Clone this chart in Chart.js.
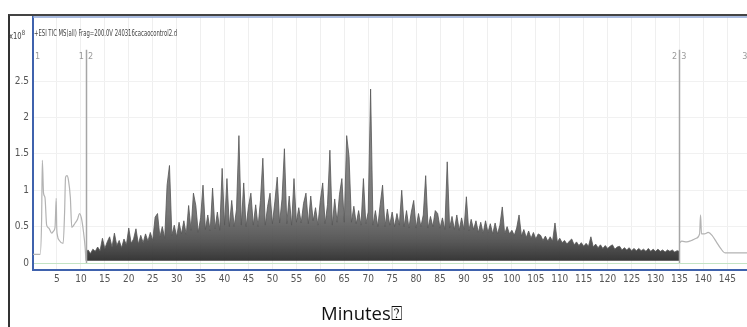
<!DOCTYPE html>
<html>
<head>
<meta charset="utf-8">
<script src="https://cdn.jsdelivr.net/npm/chart.js@4.4.1/dist/chart.umd.min.js"></script>
<style>
  body { margin: 0; background: #fff; }
  #wrap { position: relative; width: 747px; height: 327px; overflow: hidden; background: #fff; }
  #frame { position: absolute; left: 8px; top: 14px; width: 800px; height: 400px; border-left: 2px solid #333; border-top: 2px solid #444; }
  canvas { position: absolute; left: 0; top: 0; }
  .small { position: absolute; white-space: nowrap; transform-origin: 0 0; color: #444;
           font-family: "Liberation Sans Narrow", "DejaVu Sans Condensed", "Liberation Sans", sans-serif; }
  #expo { left: 9px; top: 29px; font-size: 9px; }
  #expo sup { font-size: 7px; vertical-align: 4px; }
  #title { left: 34px; top: 28px; font-size: 9px; }
  #xlabel { position: absolute; left: 321px; top: 300px; font: 18.5px "Open Sans", sans-serif; color: #111; white-space: nowrap; }
</style>
</head>
<body>
<div id="wrap">
  <div id="frame"></div>
  <canvas id="tic" width="747" height="327"></canvas>
  <div id="expo" class="small">x10<sup>8</sup></div>
  <div id="title" class="small">+ESI TIC MS(all) Frag=200.0V 240316cacaocontrol2.d</div>
  <div id="xlabel">Minutes⍰</div>
</div>
<script>
// ticks
const xTicks = [5, 10, 15, 20, 25, 30, 35, 40, 45, 50, 55, 60, 65, 70, 75, 80, 85, 90, 95, 100, 105, 110, 115, 120, 125, 130, 135, 140, 145];
const yTicks = [0, 0.5, 1, 1.5, 2, 2.5];

// segmentos (1 | 2 | 3)
const segmentNames = ["1", "2", "3"];
const segmentBounds = [0, 11.05, 134.95, 149.6];

// trecho 1 (antes do corte)
const preTimes  = [0, 1.5, 1.8, 1.95, 2.2, 2.5, 2.85, 3.3, 3.9, 4.3, 4.6, 4.85, 4.95, 5.1, 5.5, 6.3, 6.6, 6.8, 7.1, 7.4, 7.8, 8.1, 8.8, 9.3, 9.7, 10.1, 10.5, 10.9, 11.05];
const preValues = [0.12, 0.12, 0.6, 1.41, 0.96, 0.9, 0.52, 0.48, 0.41, 0.44, 0.49, 0.89, 0.5, 0.38, 0.31, 0.27, 0.7, 1.18, 1.2, 1.14, 0.9, 0.49, 0.55, 0.6, 0.68, 0.62, 0.45, 0.2, 0.03];

// trecho 2 (denso), a cada 0.5 min a partir de 11
const denseStart = 11;
const denseStep = 0.5;
const denseValues = [
  0.15, 0.18, 0.13, 0.19, 0.16, 0.22, 0.17, 0.34, 0.2, 0.29,
  0.36, 0.22, 0.41, 0.24, 0.31, 0.21, 0.33, 0.25, 0.48, 0.27,
  0.33, 0.47, 0.26, 0.38, 0.28, 0.4, 0.3, 0.42, 0.31, 0.63,
  0.68, 0.36, 0.5, 0.34, 1.07, 1.34, 0.38, 0.52, 0.36, 0.56,
  0.4, 0.58, 0.39, 0.79, 0.45, 0.96, 0.79, 0.42, 0.62, 1.07,
  0.46, 0.66, 0.44, 1.03, 0.47, 0.7, 0.45, 1.3, 0.52, 1.16,
  0.5, 0.86, 0.5, 0.74, 1.75, 0.52, 1.1, 0.5, 0.78, 0.96,
  0.52, 0.8, 0.5, 0.86, 1.44, 0.52, 0.78, 0.96, 0.54, 0.84,
  1.18, 0.55, 0.88, 1.57, 0.54, 0.92, 0.52, 1.16, 0.56, 0.76,
  0.55, 0.82, 0.96, 0.54, 0.92, 0.58, 0.76, 0.52, 0.86, 1.1,
  0.54, 0.8, 1.55, 0.52, 0.88, 0.56, 0.94, 1.16, 0.56, 1.75,
  1.46, 0.56, 0.78, 0.54, 0.72, 0.52, 1.16, 0.54, 0.7, 2.39,
  0.52, 0.72, 0.5, 0.8, 1.07, 0.5, 0.74, 0.52, 0.7, 0.5,
  0.68, 0.52, 1.0, 0.5, 0.72, 0.48, 0.7, 0.86, 0.48, 0.68,
  0.5, 0.66, 1.2, 0.48, 0.64, 0.5, 0.72, 0.68, 0.48, 0.62,
  0.46, 1.39, 0.48, 0.64, 0.46, 0.66, 0.45, 0.62, 0.46, 0.91,
  0.44, 0.6, 0.46, 0.58, 0.42, 0.56, 0.41, 0.58, 0.42, 0.54,
  0.4, 0.55, 0.4, 0.52, 0.77, 0.4, 0.5, 0.4, 0.45, 0.38,
  0.48, 0.66, 0.37, 0.46, 0.35, 0.44, 0.34, 0.42, 0.33, 0.4,
  0.38, 0.31, 0.37, 0.3, 0.36, 0.3, 0.55, 0.29, 0.34, 0.28,
  0.31, 0.26, 0.3, 0.33, 0.25, 0.29, 0.24, 0.28, 0.23, 0.27,
  0.23, 0.36, 0.22, 0.26, 0.21, 0.25, 0.2, 0.24, 0.2, 0.23,
  0.25, 0.19, 0.22, 0.23, 0.18, 0.21, 0.18, 0.21, 0.17, 0.2,
  0.17, 0.2, 0.17, 0.19, 0.16, 0.2, 0.16, 0.19, 0.16, 0.19,
  0.16, 0.18, 0.15, 0.18, 0.16, 0.18, 0.15, 0.17, 0.16
];

// trecho 3 (depois do corte)
const postTimes  = [134.95, 135.5, 136.5, 137.5, 138.5, 139.2, 139.4, 139.6, 140.2, 141, 141.8, 142.7, 143.6, 144.5, 149.6];
const postValues = [0.27, 0.3, 0.29, 0.31, 0.34, 0.4, 0.66, 0.4, 0.4, 0.42, 0.38, 0.29, 0.2, 0.14, 0.14];

const FONT = '"Liberation Sans Narrow", "DejaVu Sans Condensed", "Liberation Sans", sans-serif';
const BLUE = "#3f62ad";

const toPoints = (ts, vs) => ts.map((t, i) => ({ x: t, y: vs[i] }));
const densePoints = denseValues.map((v, i) => ({ x: denseStart + i * denseStep, y: v }));

// linhas dos segmentos + borda de cima
const markers = {
  id: "markers",
  afterDatasetsDraw(chart) {
    const { ctx, chartArea, scales: { x, y } } = chart;
    ctx.save();
    ctx.strokeStyle = "#8ea6d6";
    ctx.lineWidth = 1.5;
    ctx.beginPath();
    ctx.moveTo(chartArea.left, chartArea.top);
    ctx.lineTo(chartArea.right, chartArea.top);
    ctx.stroke();

    ctx.strokeStyle = "#a6a6a6";
    ctx.lineWidth = 1.5;
    segmentBounds.slice(1, -1).forEach(t => {
      const px = Math.round(x.getPixelForValue(t)) + 0.5;
      ctx.beginPath();
      ctx.moveTo(px, y.getPixelForValue(2.93));
      ctx.lineTo(px, y.getPixelForValue(0));
      ctx.stroke();
    });

    ctx.font = "9px " + FONT;
    ctx.fillStyle = "#9a9a9a";
    ctx.textBaseline = "middle";
    const ly = y.getPixelForValue(2.83);
    segmentNames.forEach((name, i) => {
      const a = x.getPixelForValue(segmentBounds[i]);
      const b = x.getPixelForValue(segmentBounds[i + 1]);
      ctx.textAlign = "left";
      ctx.fillText(name, a + 2, ly);
      ctx.textAlign = "right";
      ctx.fillText(name, b - 2, ly);
    });
    ctx.restore();
  }
};

new Chart(document.getElementById("tic"), {
  type: "line",
  data: {
    datasets: [
      {
        data: toPoints(preTimes, preValues),
        borderColor: "#b3b3b3",
        borderWidth: 1.2,
        pointRadius: 0,
        cubicInterpolationMode: "monotone",
        fill: false
      },
      {
        data: densePoints,
        borderColor: "#555555",
        borderWidth: 0.8,
        pointRadius: 0,
        tension: 0,
        fill: { value: 0.03 },
        backgroundColor: ctx => {
          const chart = ctx.chart;
          if (!chart.chartArea) return "#666";
          const y = chart.scales.y;
          const g = chart.ctx.createLinearGradient(0, y.getPixelForValue(0), 0, y.getPixelForValue(1.5));
          g.addColorStop(0, "rgba(45,45,45,0.97)");
          g.addColorStop(0.2, "rgba(78,78,78,0.94)");
          g.addColorStop(0.45, "rgba(100,100,100,0.88)");
          g.addColorStop(1, "rgba(112,112,112,0.85)");
          return g;
        }
      },
      {
        data: toPoints(postTimes, postValues),
        borderColor: "#b3b3b3",
        borderWidth: 1.2,
        pointRadius: 0,
        cubicInterpolationMode: "monotone",
        fill: false
      }
    ]
  },
  options: {
    responsive: false,
    devicePixelRatio: 1,
    animation: false,
    events: [],
    layout: { padding: { top: 17, right: 0, bottom: 37, left: 0 } },
    plugins: { legend: { display: false }, tooltip: { enabled: false } },
    scales: {
      x: {
        type: "linear",
        min: 0,
        max: 149.1,
        afterBuildTicks: s => { s.ticks = xTicks.map(v => ({ value: v })); },
        afterFit: s => { s.height = 20; },
        grid: { color: "#efefef", drawTicks: false },
        border: { color: BLUE, width: 2 },
        ticks: { padding: 3, color: "#555", autoSkip: false, maxRotation: 0, font: { family: FONT, size: 10 } }
      },
      y: {
        min: -0.096,
        max: 3.38,
        afterBuildTicks: s => { s.ticks = yTicks.map(v => ({ value: v })); },
        afterFit: s => { s.width = 33; },
        grid: {
          color: c => (c.tick && c.tick.value === 0 ? "#c4e4c4" : "#f1f1f1"),
          drawTicks: false
        },
        border: { color: BLUE, width: 2 },
        ticks: { padding: 4, color: "#555", font: { family: FONT, size: 10 }, callback: v => String(v) }
      }
    }
  },
  plugins: [markers]
});

// textos pequenos comprimidos como no original
const title = document.getElementById("title");
title.style.transform = "scaleX(" + (143 / title.offsetWidth) + ")";
const expo = document.getElementById("expo");
expo.style.transform = "scaleX(" + (16 / expo.offsetWidth) + ")";
</script>
</body>
</html>
